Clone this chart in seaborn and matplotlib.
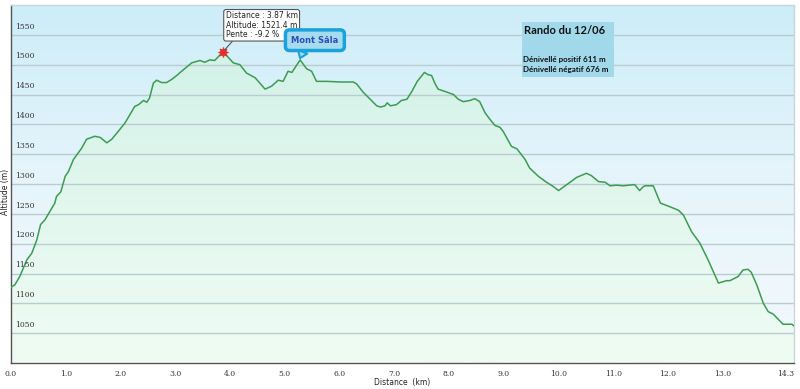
import numpy as np
import pandas as pd
import seaborn as sns
import matplotlib.pyplot as plt
from matplotlib.colors import LinearSegmentedColormap
from matplotlib.patches import PathPatch, Rectangle

# profile: distance (km), altitude (m)
dist = [0.00, 0.07, 0.16, 0.29, 0.38, 0.47, 0.54, 0.62, 0.71, 0.80, 0.83, 0.91,
        0.99, 1.05, 1.14, 1.29, 1.38, 1.53, 1.63, 1.75, 1.84, 1.93, 2.08, 2.17,
        2.26, 2.33, 2.42, 2.48, 2.53, 2.60, 2.66, 2.75, 2.84, 2.93, 3.03, 3.09,
        3.30, 3.45, 3.54, 3.63, 3.72, 3.87, 3.94, 4.06, 4.18, 4.30, 4.46, 4.64,
        4.76, 4.88, 4.97, 5.06, 5.13, 5.28, 5.40, 5.49, 5.58, 5.77, 6.01, 6.25,
        6.31, 6.43, 6.56, 6.68, 6.75, 6.83, 6.87, 6.93, 7.04, 7.13, 7.23, 7.32,
        7.42, 7.55, 7.62, 7.68, 7.74, 7.80, 7.96, 8.08, 8.17, 8.26, 8.38, 8.47,
        8.56, 8.66, 8.75, 8.84, 8.93, 8.99, 9.14, 9.24, 9.39, 9.47, 9.63, 9.78,
        9.90, 10.00, 10.15, 10.33, 10.51, 10.60, 10.73, 10.85, 10.94, 11.06,
        11.18, 11.39, 11.48, 11.54, 11.58, 11.73, 11.86, 12.03, 12.19, 12.28,
        12.43, 12.58, 12.73, 12.92, 13.07, 13.13, 13.28, 13.37, 13.46, 13.52,
        13.62, 13.74, 13.83, 13.92, 14.10, 14.26, 14.30]
alt = [1127, 1131, 1145, 1173, 1184, 1206, 1232, 1240, 1254, 1268, 1279, 1287,
       1313, 1321, 1341, 1360, 1375, 1380, 1378, 1369, 1375, 1385, 1402, 1416,
       1430, 1433, 1440, 1437, 1444, 1469, 1474, 1470, 1470, 1475, 1482, 1487,
       1503, 1507, 1504, 1508, 1507, 1521.4, 1515, 1503, 1500, 1486, 1478, 1459,
       1464, 1474, 1472, 1489, 1487, 1508, 1493, 1489, 1472, 1472, 1471, 1471,
       1468, 1454, 1442, 1431, 1429, 1431, 1436, 1431, 1433, 1440, 1442, 1455,
       1472, 1487, 1483, 1482, 1469, 1459, 1454, 1450, 1442, 1438, 1440, 1443,
       1438, 1419, 1408, 1398, 1395, 1388, 1363, 1359, 1341, 1327, 1313, 1303,
       1296, 1289, 1299, 1311, 1318, 1314, 1304, 1303, 1297, 1298,
       1297, 1299, 1289, 1295, 1297, 1297, 1268, 1262, 1256, 1248,
       1220, 1201, 1173, 1134, 1138, 1138, 1145, 1156, 1157, 1152,
       1131, 1100, 1086, 1082, 1065, 1065, 1062]

y_ticks = [1050, 1100, 1150, 1200, 1250, 1300, 1350, 1400, 1450, 1500, 1550]
x_ticks = [0, 1, 2, 3, 4, 5, 6, 7, 8, 9, 10, 11, 12, 13, 14.3]
x_labels = ["0.0", "1.0", "2.0", "3.0", "4.0", "5.0", "6.0", "7.0", "8.0",
            "9.0", "10.0", "11.0", "12.0", "13.0", "14.3"]

point_km, point_alt = 3.87, 1521.4
tooltip = "Distance : 3.87 km\nAltitude: 1521.4 m\nPente : -9.2 %"
summit_km, summit_alt, summit_name = 5.28, 1508, "Mont Sâla"
title = "Rando du 12/06"
gain_text = "Dénivellé positif 611 m\nDénivellé négatif 676 m"

df = pd.DataFrame({"Distance": dist, "Altitude": alt})

sns.set_theme(style="white")
plt.rcParams['font.family'] = ['DejaVu Sans']

fig = plt.figure(figsize=(8, 3.89), dpi=100)
ax = fig.add_axes([11 / 800, 26 / 389, 783 / 800, 358 / 389])

x0, x1, y0, y1 = 0, 14.3, 1000, 1600

# background gradient
bg = LinearSegmentedColormap.from_list("bg", ["#f3f9fd", "#e6f5fb", "#cdedf8"])
ax.imshow(np.linspace(0, 1, 256).reshape(-1, 1), extent=[x0, x1, y0, y1],
          origin="lower", aspect="auto", cmap=bg, zorder=0)

# green gradient under the curve
poly = ax.fill_between(df["Distance"], df["Altitude"], y0, color="none")
gr = LinearSegmentedColormap.from_list("gr", ["#effcf4", "#e2f7ee", "#d3f2e8"])
img = ax.imshow(np.linspace(0, 1, 256).reshape(-1, 1), extent=[x0, x1, y0, 1530],
                origin="lower", aspect="auto", cmap=gr, zorder=1)
clip = PathPatch(poly.get_paths()[0], transform=ax.transData, fc="none", ec="none")
ax.add_patch(clip)
img.set_clip_path(clip)

for v in y_ticks:
    ax.axhline(v, color="#b9ccd2", lw=1, zorder=2)

sns.lineplot(data=df, x="Distance", y="Altitude", ax=ax, color="#3d9b52",
             lw=1.1, zorder=4)

ax.set_xlim(x0, x1)
ax.set_ylim(y0, y1)

# y labels drawn inside the plot
ax.set_yticks([])
for v in y_ticks:
    ax.text(0.07, v + 7, str(v), fontsize=5.5, family="DejaVu Serif",
            color="#333333", va="bottom", ha="left", zorder=5)

ax.set_xticks(x_ticks)
ax.set_xticklabels(x_labels, fontsize=5.5, family="DejaVu Serif", color="#333333")
ax.get_xticklabels()[-1].set_horizontalalignment("right")
ax.tick_params(axis="x", direction="out", length=3, width=0.8, color="#555555", pad=2)
ax.set_xlabel("Distance  (km)", fontsize=5.5, color="#222222", labelpad=0)
ax.set_ylabel("")
fig.text(6 / 800, 1 - 192 / 389, "Altitude (m)", rotation=90, fontsize=5.5,
         color="#222222", ha="center", va="center")

for side in ["left", "bottom"]:
    ax.spines[side].set_color("#555555")
    ax.spines[side].set_linewidth(1)
for side in ["top", "right"]:
    ax.spines[side].set_color("#c9d5d9")
    ax.spines[side].set_linewidth(1)

# selected point + tooltip
ax.plot([point_km], [point_alt], marker=(8, 2, 0), ms=7, color="#e03030",
        mew=0.9, zorder=6)
ax.plot([point_km], [point_alt], marker="o", ms=4.5, mfc="none", mec="#e03030",
        mew=0.6, zorder=6)
ax.annotate(tooltip, xy=(point_km, point_alt), xytext=(3.92, 1566),
            fontsize=5.5, color="#222222", ha="left", va="center", linespacing=1.05,
            bbox=dict(boxstyle="round,pad=0.25,rounding_size=0.3", fc="white",
                      ec="#555555", lw=0.8),
            arrowprops=dict(arrowstyle="-", color="#555555", lw=0.8,
                            shrinkA=0, shrinkB=2, relpos=(0.12, 0)),
            zorder=7)

# summit callout
ax.annotate(summit_name, xy=(summit_km, summit_alt + 3), xytext=(5.55, 1541),
            fontsize=6, fontweight="bold", color="#2d4fb5", ha="center", va="center",
            bbox=dict(boxstyle="round,pad=0.7,rounding_size=0.5", fc="#a6dbee",
                      ec="#1aa2da", lw=2.5),
            arrowprops=dict(arrowstyle="wedge,tail_width=1.2,shrink_factor=0.5",
                            fc="#a6dbee", ec="#1aa2da", lw=1.5,
                            shrinkA=0, shrinkB=0, relpos=(0.3, 0)),
            zorder=7)

# info box
fig.patches.append(Rectangle((522 / 800, 1 - 77 / 389), 92 / 800, 55 / 389,
                             transform=fig.transFigure, fc="#a2d9ea", ec="none",
                             zorder=8))
fig.text(524 / 800, 1 - 31 / 389, title, fontsize=8, fontweight="bold",
         family="Lato", color="#111111", ha="left", va="center", zorder=9)
fig.text(523 / 800, 1 - 64.5 / 389, gain_text, fontsize=5.8, fontweight="bold",
         family="Lato", color="#111111", ha="left", va="center",
         linespacing=1.55, zorder=9)

fig.savefig("out.png", dpi=100)
